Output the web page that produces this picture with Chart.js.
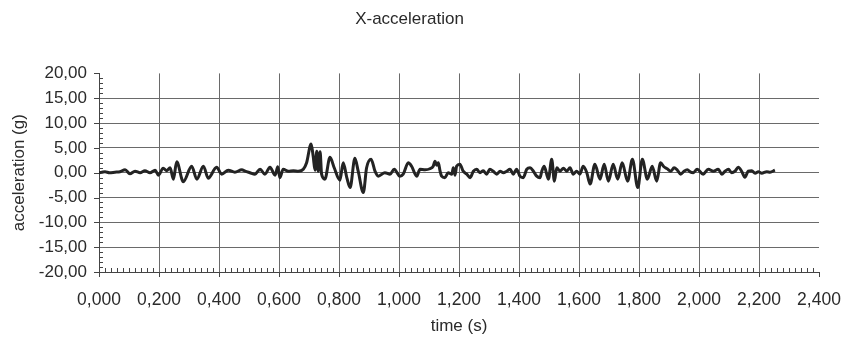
<!DOCTYPE html>
<html lang="en">
<head>
    <meta charset="UTF-8">
    <title>X-acceleration</title>
    <script src="https://cdn.jsdelivr.net/npm/chart.js"></script>
    <style>
        body { margin: 0; background: #fff; }
        #wrap { width: 846px; height: 344px; }
    </style>
</head>
<body>
    <div id="wrap"><canvas id="accChart"></canvas></div>
    <script>
        // time (s) and x-acceleration (g)
        const times = [
            0.000, 0.010, 0.020, 0.035, 0.053, 0.070, 0.087, 0.103, 0.120, 0.137,
            0.153, 0.170, 0.187, 0.198, 0.214, 0.226, 0.237, 0.248, 0.259, 0.281,
            0.309, 0.326, 0.348, 0.364, 0.392, 0.409, 0.431, 0.453, 0.476, 0.487,
            0.503, 0.520, 0.537, 0.553, 0.570, 0.587, 0.596, 0.603, 0.614, 0.631,
            0.648, 0.664, 0.681, 0.692, 0.707, 0.714, 0.720, 0.726, 0.731, 0.737,
            0.742, 0.753, 0.770, 0.784, 0.803, 0.814, 0.826, 0.837, 0.853, 0.864,
            0.881, 0.892, 0.907, 0.920, 0.931, 0.953, 0.970, 0.984, 1.003, 1.014,
            1.031, 1.042, 1.059, 1.070, 1.087, 1.103, 1.114, 1.120, 1.126, 1.131,
            1.137, 1.142, 1.153, 1.164, 1.176, 1.181, 1.187, 1.192, 1.203, 1.214,
            1.226, 1.237, 1.248, 1.259, 1.270, 1.281, 1.292, 1.303, 1.314, 1.326,
            1.337, 1.348, 1.359, 1.370, 1.381, 1.392, 1.403, 1.414, 1.426, 1.437,
            1.448, 1.459, 1.470, 1.476, 1.484, 1.498, 1.509, 1.518, 1.526, 1.537,
            1.548, 1.559, 1.570, 1.581, 1.592, 1.603, 1.614, 1.626, 1.637, 1.653,
            1.670, 1.684, 1.698, 1.714, 1.729, 1.744, 1.762, 1.778, 1.796, 1.811,
            1.828, 1.844, 1.859, 1.872, 1.883, 1.894, 1.906, 1.917, 1.928, 1.939,
            1.950, 1.961, 1.972, 1.981, 1.994, 2.014, 2.031, 2.048, 2.064, 2.076,
            2.087, 2.098, 2.109, 2.120, 2.131, 2.142, 2.153, 2.164, 2.176, 2.187,
            2.198, 2.209, 2.226, 2.237, 2.253
        ];
        const accel = [
            0.0, 0.1, 0.2, 0.0, 0.1, 0.2, 0.6, -0.2, 0.3, 0.0,
            0.4, 0.0, 0.5, -0.5, 0.9, 0.4, 1.0, -1.3, 2.2, -1.8,
            1.3, -1.3, 1.3, -1.1, 1.1, -0.3, 0.5, 0.1, 0.6, 0.3,
            0.0, -0.3, 0.7, -0.3, 1.1, -0.5, 1.2, -1.0, 0.7, 0.3,
            0.4, 0.3, 0.7, 2.0, 5.8, 3.3, 0.5, 4.3, 0.3, 4.2,
            -0.3, -1.3, 3.1, 1.0, -1.5, 2.0, -1.0, -3.0, 2.9, 0.3,
            -4.0, 1.0, 2.7, 0.3, -0.7, 0.0, -0.3, 0.7, -0.7, -0.3,
            2.0, 1.3, -0.7, 0.7, 0.6, 0.8, 1.3, 2.3, 1.5, 2.0,
            0.3, -0.7, -1.0, 0.0, -0.3, 1.0, -0.5, 1.3, 1.7, 0.3,
            -0.3, -1.0, 0.3, 0.7, 0.0, 0.4, -0.3, 0.7, 0.3, -0.3,
            0.3, 0.0, 0.3, 0.7, -0.3, 0.7, -0.7, -1.0, 0.7, 1.0,
            0.3, -0.7, -1.0, 0.3, 1.3, -1.3, 2.7, -1.7, 1.0, 0.3,
            0.9, 0.3, 1.0, -0.3, 0.3, -0.3, 1.3, 0.0, -2.3, 1.7,
            -1.3, 1.7, -1.7, 1.7, -1.3, 2.0, -1.7, 2.7, -3.0, 2.7,
            -1.3, 1.3, -1.7, 2.0, 1.2, 0.8, 0.3, 1.0, 0.5, -0.3,
            0.3, 0.6, 0.1, 0.0, 0.7, -0.3, 0.7, 0.3, 0.7, -0.3,
            0.3, 0.7, 0.0, 0.3, 1.1, 0.3, -0.9, 0.3, 0.4, -0.1,
            0.2, -0.1, 0.2, 0.1, 0.5
        ];
        const xTicks = [0, 0.2, 0.4, 0.6, 0.8, 1.0, 1.2, 1.4, 1.6, 1.8, 2.0, 2.2, 2.4];
        const yTicks = [-20, -15, -10, -5, 0, 5, 10, 15, 20];

        const points = times.map((t, i) => ({ x: t, y: accel[i] }));
        const fontFamily = "'Liberation Sans', Arial, sans-serif";
        const textColor = '#2a2a2a';
        const gridColor = '#6a6a6a';

        // Minor and major tick marks drawn like the spreadsheet axis
        const tickMarks = {
            id: 'tickMarks',
            afterDraw(chart) {
                const { ctx, chartArea, scales } = chart;
                const x = scales.x, y = scales.y;
                ctx.save();
                ctx.strokeStyle = '#444';
                ctx.lineWidth = 1;
                ctx.beginPath();
                for (let i = 0; i <= 120; i++) {
                    const px = Math.round(x.getPixelForValue(i * 0.02)) + 0.5;
                    if (i % 10 === 0) {
                        ctx.moveTo(px, chartArea.bottom);
                        ctx.lineTo(px, chartArea.bottom + 5);
                    } else {
                        ctx.moveTo(px, chartArea.bottom);
                        ctx.lineTo(px, chartArea.bottom - 4);
                    }
                }
                for (let v = -20; v <= 20; v++) {
                    const py = Math.round(y.getPixelForValue(v)) + 0.5;
                    if (v % 5 === 0) {
                        ctx.moveTo(chartArea.left, py);
                        ctx.lineTo(chartArea.left - 5, py);
                    } else {
                        ctx.moveTo(chartArea.left, py);
                        ctx.lineTo(chartArea.left + 4, py);
                    }
                }
                ctx.stroke();
                ctx.restore();
            }
        };

        new Chart(document.getElementById('accChart'), {
            type: 'line',
            data: {
                datasets: [{
                    label: 'X-acceleration',
                    data: points,
                    borderColor: '#232323',
                    borderWidth: 3,
                    pointRadius: 0,
                    cubicInterpolationMode: 'monotone',
                    fill: false
                }]
            },
            options: {
                responsive: true,
                maintainAspectRatio: false,
                animation: false,
                layout: { padding: { right: 27 } },
                plugins: {
                    legend: { display: false },
                    tooltip: { enabled: false },
                    title: {
                        display: true,
                        text: 'X-acceleration',
                        color: textColor,
                        font: { family: fontFamily, size: 17, weight: 'normal' },
                        padding: { top: 9, bottom: 44 }
                    }
                },
                scales: {
                    x: {
                        type: 'linear',
                        min: 0,
                        max: 2.4,
                        afterBuildTicks: s => { s.ticks = xTicks.map(v => ({ value: v })); },
                        afterFit: s => { s.height = 72; s.paddingLeft = 0; s.paddingRight = 0; },
                        ticks: {
                            color: textColor,
                            font: { family: fontFamily, size: 17.5 },
                            padding: 18,
                            maxRotation: 0,
                            autoSkip: false,
                            callback: v => Number(v).toFixed(3).replace('.', ',')
                        },
                        grid: {
                            drawTicks: false,
                            color: c => (c.tick && (c.tick.value === 0 || c.tick.value > 2.3)) ? 'rgba(0,0,0,0)' : gridColor,
                            lineWidth: 1
                        },
                        border: { display: true, color: '#444', width: 1 },
                        title: {
                            display: true,
                            text: 'time (s)',
                            color: textColor,
                            font: { family: fontFamily, size: 17 },
                            padding: { top: 0, bottom: 7 }
                        }
                    },
                    y: {
                        min: -20,
                        max: 20,
                        afterBuildTicks: s => { s.ticks = yTicks.map(v => ({ value: v })); },
                        afterFit: s => { s.width = 99; },
                        ticks: {
                            color: textColor,
                            font: { family: fontFamily, size: 17 },
                            padding: 12,
                            autoSkip: false,
                            callback: v => Number(v).toFixed(2).replace('.', ',')
                        },
                        grid: {
                            drawTicks: false,
                            color: c => (c.tick && Math.abs(c.tick.value) === 20) ? 'rgba(0,0,0,0)' : gridColor,
                            lineWidth: 1
                        },
                        border: { display: true, color: '#444', width: 1 },
                        title: {
                            display: true,
                            text: 'acceleration (g)',
                            color: textColor,
                            font: { family: fontFamily, size: 17 },
                            padding: { top: 9, bottom: 0 }
                        }
                    }
                }
            },
            plugins: [tickMarks]
        });
    </script>
</body>
</html>
